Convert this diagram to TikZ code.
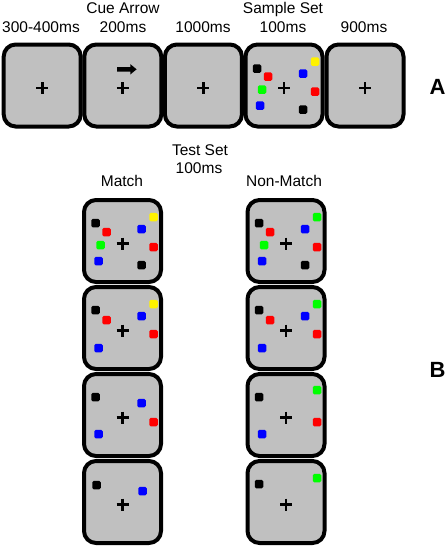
\documentclass[tikz,border=0pt]{standalone}
\usepackage{fontspec}
\setmainfont{Liberation Sans}
\definecolor{panelgray}{RGB}{192,192,192}
\newcommand\stimset[2]{\foreach \c/\dx/\dy [count=\k] in {#2} {\node[sq, fill=\c] (#1d\k) at ([shift={(\dx,\dy)}]#1.center) {};}}
\newcommand\fixcross[1]{\draw[fixline] ([shift={(-6,2.5)}]#1.center) -- ++(12,0); \draw[fixline] ([shift={(0,-3.5)}]#1.center) -- ++(0,12);}
\begin{document}
\begin{tikzpicture}[x=1pt,y=-1pt,
  panel/.style={draw=black, line width=4pt, fill=panelgray, rounded corners=12pt, minimum width=77pt, minimum height=82pt, inner sep=0pt},
  sq/.style={rectangle, minimum size=8.5pt, inner sep=0pt, rounded corners=1.5pt},
  lab/.style={anchor=base, font=\fontsize{15.5}{18}\selectfont, inner sep=0pt},
  tag/.style={font=\bfseries\fontsize{22}{24}\selectfont, inner sep=0pt},
  fixline/.style={line width=2.8pt}]
\useasboundingbox (0,0) rectangle (447,547);
% top row
\node[panel] (b1) at (42.2,85.5) {};
\node[panel] (b2) at (122.8,85.5) {};
\node[panel] (b3) at (203.4,85.5) {};
\node[panel] (b4) at (284.0,85.5) {};
\node[panel] (b5) at (365.0,85.5) {};
\foreach \b in {b1,b2,b3,b4,b5} {\fixcross{\b}}
\begin{scope}[shift={(b2.center)}]
  \fill (-5.8,-18.4) -- (7.5,-18.4) -- (7.5,-21.4) -- (13.8,-16.2) -- (7.5,-11.0) -- (7.5,-14.0) -- (-5.8,-14.0) -- cycle;
\end{scope}
\stimset{b4}{black/-27/-17, red/-16/-9, green/-22/4, blue/-24/20, blue/19/-12, yellow/31/-24, red/31/6, black/19/24}
% top labels
\node[lab] (l1) at (41,32.3) {300-400ms};
\node[lab] (l2a) at (123,13.3) {Cue Arrow};
\node[lab] (l2b) at (123,32.3) {200ms};
\node[lab] (l3) at (203,32.3) {1000ms};
\node[lab] (l4a) at (283,13.3) {Sample Set};
\node[lab] (l4b) at (283,32.3) {100ms};
\node[lab] (l5) at (364,32.3) {900ms};
\node[tag] (A) at (437.5,87) {A};
% bottom
\node[lab] (ts) at (200,155) {Test Set};
\node[lab] (tsb) at (199,173.3) {100ms};
\node[lab] (mt) at (122,186.7) {Match};
\node[lab] (nm) at (284,186.7) {Non-Match};
\node[tag] (B) at (437.5,370) {B};
\foreach \i/\y in {1/241,2/328,3/415,4/502} {
  \node[panel] (m\i) at (122.5,\y) {};
  \node[panel] (n\i) at (286,\y) {};
}
\foreach \b in {m1,m2,m3,m4,n1,n2,n3,n4} {\fixcross{\b}}
\stimset{m1}{black/-27/-18, red/-16/-9, green/-22/4, blue/-24/20, blue/19/-12, yellow/31/-24, red/31/6, black/19/24}
\stimset{n1}{black/-27/-18, red/-16/-9, green/-22/4, blue/-24/20, blue/19/-12, green/31/-24, red/31/6, black/19/24}
\stimset{m2}{black/-27/-18, red/-16/-8, blue/-24/20, blue/19/-12, yellow/31/-24, red/31/6}
\stimset{n2}{black/-27/-18, red/-16/-8, blue/-24/20, blue/19/-12, green/31/-24, red/31/6}
\stimset{m3}{black/-27/-18, blue/19/-12, red/31/7, blue/-24/19}
\stimset{n3}{black/-27/-18, green/31/-25, red/31/7, blue/-24/19}
\stimset{m4}{black/-26/-17, blue/20/-11}
\stimset{n4}{black/-27/-18, green/31/-24}
\end{tikzpicture}
\end{document}
